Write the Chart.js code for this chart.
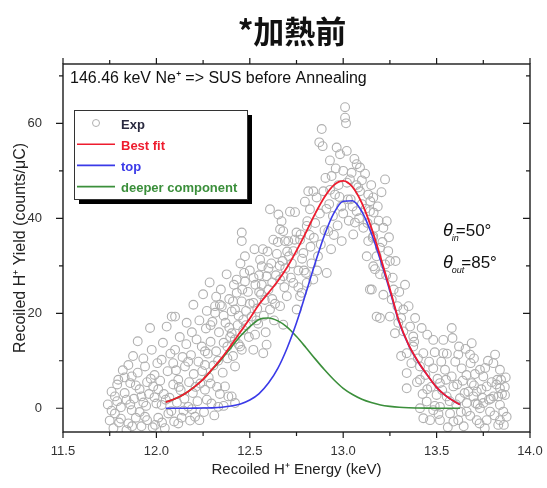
<!DOCTYPE html>
<html>
<head>
<meta charset="utf-8">
<script src="https://cdn.jsdelivr.net/npm/chart.js@4.4.1/dist/chart.umd.min.js"></script>
<style>
  html, body { margin: 0; padding: 0; background: #fff; }
</style>
</head>
<body>
<canvas id="chart" width="547" height="488"></canvas>
<script>
const titleText = '*加熱前';
const noteText = '146.46 keV Ne⁺ => SUS before Annealing';
const xTickValues = [11.5, 12.0, 12.5, 13.0, 13.5, 14.0];
const xMinorTicks = [11.75, 12.25, 12.75, 13.25, 13.75];
const yTickValues = [0, 20, 40, 60];
const yMinorTicks = [10, 30, 50, 70];

// fitted curves
const fitX = [12.05, 12.10, 12.15, 12.20, 12.25, 12.30, 12.35, 12.40, 12.45, 12.50, 12.55, 12.60, 12.65, 12.70, 12.75, 12.80, 12.85, 12.90, 12.95, 13.00, 13.05, 13.10, 13.15, 13.20, 13.25, 13.30, 13.35, 13.40, 13.45, 13.50, 13.55, 13.60, 13.625];
const bestFit = [1.3, 2.0, 3.0, 4.4, 6.1, 8.3, 10.6, 13.3, 16.1, 18.9, 21.9, 24.3, 26.8, 29.7, 33.2, 37.0, 41.0, 44.5, 47.0, 47.9, 46.6, 43.2, 38.1, 31.8, 25.1, 18.2, 13.4, 9.9, 7.0, 4.4, 2.6, 1.3, 0.8];
const topComp = [0, 0, 0, 0.02, 0.04, 0.09, 0.21, 0.46, 0.92, 1.74, 3.1, 5.3, 8.4, 12.7, 18.0, 24.2, 30.6, 36.5, 41.1, 43.6, 43.7, 41.4, 36.9, 31.1, 24.7, 18.0, 13.3, 9.8, 7.0, 4.4, 2.6, 1.3, 0.8];
const deeperComp = [1.3, 2.0, 3.0, 4.4, 6.1, 8.2, 10.4, 12.8, 15.2, 17.2, 18.7, 19.0, 18.4, 17.1, 15.1, 12.8, 10.4, 8.1, 6.0, 4.2, 2.9, 1.9, 1.2, 0.7, 0.4, 0.2, 0.1, 0.06, 0.03, 0.01, 0, 0, 0];

// experimental points [energy keV, yield]
const expData = [
  [11.74,0.8],[11.75,-2.6],[11.76,3.5],[11.77,-4.2],[11.778,2.5],[11.778,-1.1],[11.79,5.0],[11.796,6.0],[11.80,-3.0],[11.81,0.2],
  [11.82,8.0],[11.83,3.2],[11.84,1.8],[11.84,-4.6],[11.85,9.1],[11.85,-3.2],[11.86,5.3],[11.868,6.7],[11.868,-0.4],[11.875,11.0],
  [11.88,2.0],[11.89,-2.0],[11.90,14.1],[11.90,7.5],[11.91,4.0],[11.92,2.5],[11.92,-3.8],[11.93,10.5],[11.939,8.8],[11.939,-1.8],
  [11.945,0.5],[11.95,5.5],[11.96,3.0],[11.966,16.9],[11.975,12.3],[11.98,-4.0],[11.983,4.6],[11.99,7.0],[11.993,-3.5],
  [11.76,-0.5],[11.79,1.5],[11.81,-2.2],[11.83,6.5],[11.86,0.8],[11.87,-3.8],[11.89,4.8],[11.91,-0.8],[11.93,1.2],[11.95,-2.5],
  [11.97,6.2],[11.99,2.3],
  [12.00,1.0],[12.005,9.5],[12.01,-2.0],[12.02,5.8],[12.028,10.2],[12.028,0.7],[12.035,13.8],[12.04,3.0],[12.045,-4.2],[12.055,17.2],
  [12.06,7.8],[12.064,-1.1],[12.07,2.2],[12.075,11.5],[12.082,19.3],[12.09,5.0],[12.095,-2.8],[12.10,12.3],[12.10,19.3],[12.105,8.0],
  [12.11,1.2],[12.117,6.0],[12.117,-3.2],[12.125,15.0],[12.13,3.8],[12.14,10.8],[12.145,-0.5],[12.153,8.8],[12.16,13.5],[12.162,18.0],
  [12.171,0.3],[12.175,5.5],[12.18,-2.6],[12.185,11.2],[12.19,16.0],[12.195,3.2],[12.198,21.8],[12.20,7.2],[12.207,-1.8],
  [12.01,4.0],[12.03,-3.0],[12.05,1.8],[12.08,-0.6],[12.09,9.5],[12.12,4.5],[12.135,-2.0],[12.15,2.0],[12.17,9.8],[12.19,-0.2],
  [12.215,14.5],[12.22,1.5],[12.225,9.8],[12.23,18.5],[12.235,5.2],[12.243,13.0],[12.25,24.0],[12.255,-0.8],[12.26,9.1],[12.26,3.9],
  [12.265,16.8],[12.27,20.5],[12.275,11.5],[12.28,6.5],[12.285,26.5],[12.29,14.0],[12.295,1.0],[12.30,18.2],[12.305,9.0],[12.314,21.5],
  [12.314,20.1],[12.32,12.0],[12.325,4.5],[12.331,0.3],[12.335,16.0],[12.34,21.8],[12.345,25.0],[12.35,21.5],[12.355,7.5],[12.36,13.8],
  [12.367,4.6],[12.37,18.0],[12.376,28.2],[12.38,10.5],[12.385,2.5],[12.39,23.0],[12.395,15.0],[12.403,15.8],[12.403,20.4],[12.403,2.5],
  [12.41,11.0],[12.415,26.0],[12.421,20.8],[12.421,8.8],[12.421,1.1],[12.43,27.1],[12.43,24.3],[12.435,17.5],[12.44,13.5],[12.448,13.0],[12.45,30.5],
  [12.21,4.5],[12.23,-2.5],[12.245,7.8],[12.27,1.8],[12.29,5.2],[12.31,-1.5],[12.34,3.0],[12.36,0.5],
  [12.26,12.0],[12.29,17.5],[12.32,23.5],[12.33,10.0],[12.36,19.5],[12.38,13.0],[12.39,17.0],[12.41,22.5],[12.42,14.5],[12.44,19.5],
  [12.457,37.0],[12.457,35.2],[12.457,22.5],[12.457,12.3],[12.465,18.6],[12.465,16.5],[12.47,28.5],[12.474,32.0],[12.474,26.7],[12.48,20.5],
  [12.49,24.5],[12.495,15.0],[12.50,29.0],[12.51,19.3],[12.519,22.2],[12.519,12.3],[12.525,33.5],[12.528,15.5],[12.53,26.0],[12.54,21.0],
  [12.545,17.8],[12.55,28.0],[12.555,31.3],[12.56,24.0],[12.564,29.9],[12.564,26.0],[12.572,11.6],[12.575,19.5],[12.58,22.8],[12.59,27.8],
  [12.59,13.4],[12.595,33.0],[12.60,25.0],[12.608,41.9],[12.608,20.8],[12.615,30.5],[12.62,23.0],[12.626,35.5],[12.63,18.5],[12.64,28.0],
  [12.645,32.5],[12.653,40.8],[12.662,37.7],[12.662,27.1],[12.662,21.5],[12.67,39.4],[12.675,31.0],[12.679,37.3],[12.679,17.6],[12.685,25.5],
  [12.688,35.2],[12.69,29.5],[12.698,23.6],[12.70,33.0],
  [12.46,25.0],[12.48,17.5],[12.50,22.0],[12.52,27.5],[12.535,18.5],[12.55,24.5],[12.57,33.5],[12.585,16.0],[12.60,29.5],[12.62,26.5],
  [12.635,22.0],[12.65,35.0],[12.66,30.0],[12.68,27.8],
  [12.706,35.2],[12.715,41.4],[12.72,27.5],[12.725,30.5],[12.733,26.4],[12.733,33.1],[12.742,41.3],[12.75,37.0],[12.751,20.8],[12.76,29.0],
  [12.769,35.5],[12.769,23.6],[12.772,36.6],[12.778,24.3],[12.78,31.5],[12.787,32.7],[12.795,43.5],[12.80,28.5],[12.805,38.4],[12.808,39.4],
  [12.805,26.4],[12.813,45.7],[12.822,41.9],[12.825,34.0],[12.83,30.5],[12.84,27.1],[12.84,45.7],[12.843,35.9],[12.85,39.0],[12.858,44.4],
  [12.865,32.0],[12.872,56.0],[12.875,41.0],[12.885,58.8],[12.89,55.2],[12.894,45.7],[12.90,37.5],[12.905,48.5],[12.912,28.5],[12.92,37.3],
  [12.925,43.0],[12.929,52.2],[12.935,33.5],[12.938,48.9],[12.945,40.5],[12.956,45.0],[12.965,54.9],
  [12.71,32.0],[12.74,35.5],[12.76,25.5],[12.79,29.0],[12.82,36.5],[12.86,29.0],[12.88,34.5],[12.91,42.0],[12.93,46.0],[12.95,36.5],
  [12.97,38.5],[12.975,47.0],[12.983,53.5],[12.99,42.5],[12.992,35.2],[13.00,50.0],[13.01,63.4],[13.01,61.2],[13.015,60.0],[13.019,54.2],
  [13.025,44.0],[13.03,39.5],[13.036,48.2],[13.045,49.6],[13.05,42.5],[13.054,36.6],[13.063,39.1],[13.072,51.4],[13.072,41.5],[13.08,46.5],
  [13.09,50.7],[13.09,45.7],[13.10,43.0],[13.108,38.0],[13.117,49.4],[13.126,32.0],[13.134,45.0],[13.134,35.2],[13.143,41.5],[13.145,43.6],
  [13.143,25.0],[13.153,25.0],[13.161,44.4],[13.163,41.2],[13.161,36.2],[13.158,35.9],[13.161,29.9],[13.17,29.3],[13.179,32.0],[13.179,19.3],
  [13.19,39.5],[13.197,33.8],[13.197,28.2],[13.197,19.0],[13.205,45.5],[13.215,38.0],[13.215,23.9],[13.224,48.2],[13.224,30.3],[13.233,39.4],
  [13.241,33.1],[13.245,36.0],[13.25,19.3],
  [12.96,50.5],[12.98,44.5],[13.00,41.0],[13.02,47.5],[13.04,44.0],[13.06,52.5],[13.07,47.0],[13.085,40.0],[13.10,48.0],[13.12,42.0],
  [13.13,39.0],[13.15,47.0],[13.17,38.0],[13.185,42.5],[13.21,35.0],[13.23,28.0],[13.25,31.0],
  [13.26,22.9],[13.265,27.5],[13.277,15.8],[13.28,31.0],[13.295,18.0],[13.30,24.5],[13.31,11.0],[13.322,20.8],[13.322,16.2],[13.331,26.0],
  [13.34,11.6],[13.34,7.4],[13.34,4.2],[13.35,21.5],[13.358,17.2],[13.365,9.5],[13.375,15.1],[13.38,14.0],[13.375,13.0],[13.385,19.0],
  [13.395,5.5],[13.40,10.5],[13.411,8.8],[13.411,6.0],[13.411,0.0],[13.42,16.9],[13.425,3.0],[13.429,11.6],[13.429,-2.1],[13.44,7.0],
  [13.447,1.4],[13.45,15.5],[13.27,25.0],[13.29,21.5],[13.31,19.0],
  [13.465,-2.5],[13.47,4.5],[13.482,14.4],[13.482,8.4],[13.482,-0.4],[13.49,11.8],[13.50,2.8],[13.505,6.2],[13.518,5.3],[13.518,0.3],
  [13.518,-2.5],[13.525,9.8],[13.536,14.4],[13.536,11.6],[13.545,8.1],[13.554,2.5],[13.56,-4.0],[13.572,-1.1],[13.581,16.9],[13.585,14.8],
  [13.581,6.7],[13.59,4.6],[13.60,9.8],[13.605,0.8],[13.616,11.3],[13.616,-2.5],[13.625,2.1],[13.634,8.4],[13.64,5.8],[13.645,-3.8],
  [13.655,12.5],[13.661,1.1],[13.661,-0.7],[13.67,3.5],[13.679,11.3],[13.682,9.5],[13.688,13.7],[13.688,5.3],[13.697,2.5],[13.705,7.2],
  [13.715,3.5],[13.715,-2.5],[13.72,0.8],[13.732,8.1],[13.732,0.0],[13.74,4.0],[13.75,6.7],[13.75,1.1],[13.758,-4.2],[13.768,4.6],
  [13.768,-2.5],[13.775,10.0],[13.786,-0.7],[13.79,2.0],[13.804,9.5],[13.804,2.5],[13.813,11.3],[13.82,5.0],[13.825,6.0],[13.83,-3.5],
  [13.839,8.1],[13.839,4.2],[13.839,0.7],[13.839,-2.5],[13.85,3.0],[13.857,-0.7],[13.866,2.8],[13.87,6.5],[13.875,-1.8],
  [13.45,4.0],[13.46,9.8],[13.49,0.5],[13.51,-1.2],[13.53,3.8],[13.55,6.0],[13.57,1.5],[13.59,-2.8],[13.61,5.0],[13.63,-0.8],
  [13.65,3.2],[13.66,7.0],[13.68,-1.6],[13.70,4.8],[13.71,1.0],[13.73,-3.2],[13.745,2.2],[13.76,8.5],[13.78,1.8],[13.795,5.5],
  [13.81,-1.5],[13.83,2.5],[13.845,6.0],[13.86,-3.5],[13.865,4.5],[13.555,11.5],[13.62,13.0],[13.70,10.5]
];

const FONT = "'Liberation Sans', Arial, sans-serif";

// frame with tick marks on all four sides
const framePlugin = {
  id: 'frame',
  afterDraw(chart) {
    const {ctx, chartArea: a, scales: {x, y}} = chart;
    ctx.save();
    ctx.strokeStyle = '#1a1a1a';
    ctx.lineWidth = 1.4;
    ctx.strokeRect(a.left, a.top, a.right - a.left, a.bottom - a.top);
    ctx.lineWidth = 1.2;
    ctx.beginPath();
    const xt = (vals, len) => vals.forEach(v => {
      const px = x.getPixelForValue(v);
      ctx.moveTo(px, a.bottom); ctx.lineTo(px, a.bottom + len);
      ctx.moveTo(px, a.top); ctx.lineTo(px, a.top - len);
    });
    const yt = (vals, len) => vals.forEach(v => {
      const py = y.getPixelForValue(v);
      ctx.moveTo(a.left, py); ctx.lineTo(a.left - len, py);
      ctx.moveTo(a.right, py); ctx.lineTo(a.right - len, py);
    });
    xt(xTickValues, 6); xt(xMinorTicks, 4);
    yt(yTickValues, 7); yt(yMinorTicks, 4);
    ctx.stroke();
    ctx.restore();
  }
};

// title, note, angles, legend box
const textPlugin = {
  id: 'texts',
  afterDraw(chart) {
    const {ctx} = chart;
    ctx.save();
    ctx.fillStyle = '#111';
    ctx.textBaseline = 'middle';
    ctx.textAlign = 'center';
    ctx.font = "bold 31px 'Noto Sans CJK JP', sans-serif";
    ctx.fillText(titleText, 292, 31);

    ctx.textAlign = 'left';
    ctx.font = '16px ' + FONT;
    ctx.fillText(noteText, 70, 79);

    // angle labels
    const angle = (y0, sub, val) => {
      const x0 = 443;
      ctx.textBaseline = 'alphabetic';
      ctx.font = 'italic 18px ' + FONT;
      ctx.fillText('θ', x0, y0);
      const tw = ctx.measureText('θ').width;
      ctx.font = 'italic 9px ' + FONT;
      const sx = x0 + tw - 1;
      ctx.fillText(sub, sx, y0 + 5);
      const sw = ctx.measureText(sub).width;
      ctx.font = '17px ' + FONT;
      ctx.fillText(val, sx + sw - 3, y0);
    };
    angle(236, 'in', '=50°');
    angle(268, 'out', '=85°');

    // legend
    const lx = 74, ly = 110, lw = 173, lh = 89;
    ctx.fillStyle = '#000';
    ctx.fillRect(lx + 5, ly + 5, lw, lh);
    ctx.fillStyle = '#fff';
    ctx.fillRect(lx, ly, lw, lh);
    ctx.strokeStyle = '#333';
    ctx.lineWidth = 1;
    ctx.strokeRect(lx + 0.5, ly + 0.5, lw, lh);
    ctx.textBaseline = 'middle';
    ctx.font = 'bold 13px ' + FONT;
    chart.data.datasets.forEach((ds, i) => {
      const cy = 125 + i * 21.2;
      if (ds.showLine) {
        ctx.strokeStyle = ds.borderColor;
        ctx.lineWidth = 1.6;
        ctx.beginPath();
        ctx.moveTo(77, cy - 2); ctx.lineTo(115, cy - 2);
        ctx.stroke();
        ctx.fillStyle = ds.borderColor;
      } else {
        ctx.strokeStyle = ds.borderColor;
        ctx.lineWidth = 1;
        ctx.beginPath();
        ctx.arc(96, cy - 2, 3.5, 0, Math.PI * 2);
        ctx.stroke();
        ctx.fillStyle = '#2a2a40';
      }
      ctx.fillText(ds.label, 121, cy);
    });
    ctx.restore();
  }
};

const curve = vals => fitX.map((x, i) => ({x: x, y: vals[i]}));

new Chart(document.getElementById('chart'), {
  type: 'scatter',
  data: {
    datasets: [
      {
        label: 'Exp',
        data: expData.map(p => ({x: p[0], y: p[1]})),
        pointStyle: 'circle',
        pointRadius: 4.4,
        borderColor: '#b0b0b0',
        backgroundColor: 'rgba(0,0,0,0)',
        borderWidth: 1.1,
        order: 4
      },
      {
        label: 'Best fit',
        data: curve(bestFit),
        showLine: true, pointRadius: 0,
        borderColor: '#ee1c2e', borderWidth: 1.8,
        cubicInterpolationMode: 'monotone',
        order: 1
      },
      {
        label: 'top',
        data: curve(topComp),
        showLine: true, pointRadius: 0,
        borderColor: '#3a3ae8', borderWidth: 1.6,
        cubicInterpolationMode: 'monotone',
        order: 2
      },
      {
        label: 'deeper component',
        data: curve(deeperComp),
        showLine: true, pointRadius: 0,
        borderColor: '#3b8f3b', borderWidth: 1.6,
        cubicInterpolationMode: 'monotone',
        order: 3
      }
    ]
  },
  options: {
    responsive: false,
    animation: false,
    layout: {padding: {top: 64, right: 17, left: 0, bottom: 0}},
    plugins: {
      legend: {display: false},
      title: {display: false},
      tooltip: {enabled: false}
    },
    scales: {
      x: {
        type: 'linear', min: 11.5, max: 14.0,
        afterBuildTicks: s => { s.ticks = xTickValues.map(v => ({value: v})); },
        afterFit: s => { s.height = 56; },
        grid: {display: false},
        border: {display: false},
        ticks: {
          padding: 4, color: '#333',
          font: {family: FONT, size: 13},
          callback: v => Number(v).toFixed(1)
        },
        title: {
          display: true, text: 'Recoiled H⁺ Energy (keV)', color: '#222',
          font: {family: FONT, size: 15}, padding: {top: 0, bottom: 9}
        }
      },
      y: {
        type: 'linear', min: -5, max: 72.5,
        afterBuildTicks: s => { s.ticks = yTickValues.map(v => ({value: v})); },
        afterFit: s => { s.width = 63; },
        grid: {display: false},
        border: {display: false},
        ticks: {
          padding: 13, color: '#333',
          font: {family: FONT, size: 13}
        },
        title: {
          display: true, text: 'Recoiled H⁺ Yield (counts/μC)', color: '#222',
          font: {family: FONT, size: 16}, padding: {top: 11, bottom: 0}
        }
      }
    }
  },
  plugins: [framePlugin, textPlugin]
});
</script>
</body>
</html>
